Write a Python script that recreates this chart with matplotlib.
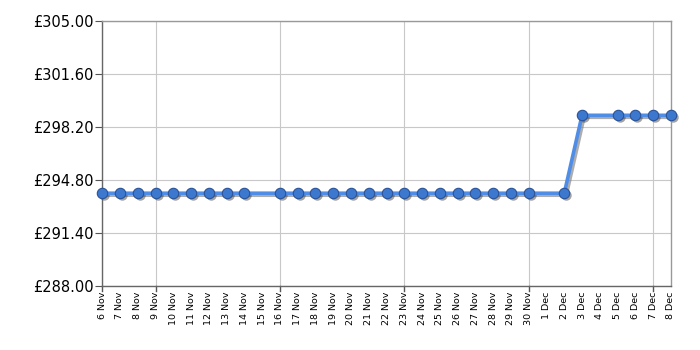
import matplotlib
matplotlib.use("Agg")
import matplotlib.pyplot as plt
import matplotlib.transforms as mtransforms
import numpy as np

days = ["6 Nov", "7 Nov", "8 Nov", "9 Nov", "10 Nov", "11 Nov", "12 Nov", "13 Nov", "14 Nov",
        "15 Nov", "16 Nov", "17 Nov", "18 Nov", "19 Nov", "20 Nov", "21 Nov", "22 Nov", "23 Nov",
        "24 Nov", "25 Nov", "26 Nov", "27 Nov", "28 Nov", "29 Nov", "30 Nov", "1 Dec", "2 Dec",
        "3 Dec", "4 Dec", "5 Dec", "6 Dec", "7 Dec", "8 Dec"]
prices = [293.95, 293.95, 293.95, 293.95, 293.95, 293.95, 293.95, 293.95, 293.95,
          None, 293.95, 293.95, 293.95, 293.95, 293.95, 293.95, 293.95, 293.95,
          293.95, 293.95, 293.95, 293.95, 293.95, 293.95, 293.95, None, 293.95,
          298.95, None, 298.95, 298.95, 298.95, 298.95]
week_ticks = ["6 Nov", "9 Nov", "16 Nov", "23 Nov", "30 Nov", "7 Dec"]
y_ticks = [288.00, 291.40, 294.80, 298.20, 301.60, 305.00]

fig = plt.figure(figsize=(7, 3.5), dpi=100)
ax = fig.add_axes([0.146, 0.183, 0.8124, 0.757])

xs = [i for i, p in enumerate(prices) if p is not None]
ys = [p for p in prices if p is not None]

shadow_tr = mtransforms.offset_copy(ax.transData, fig=fig, x=2, y=-2, units="dots")
ax.plot(xs, ys, color="#777777", lw=2.6, alpha=0.6, transform=shadow_tr, zorder=2,
        solid_joinstyle="round")
ax.plot(xs, ys, ls="none", marker="o", ms=7.5, markerfacecolor="#333333",
        markeredgecolor="none", alpha=0.45, transform=shadow_tr, zorder=2.5, clip_on=False)
ax.plot(xs, ys, color="#4f8de6", lw=2.6, marker="o", ms=7.5,
        markerfacecolor="#3d78cf", markeredgecolor="#2a5298", markeredgewidth=0.8,
        zorder=3, clip_on=False, solid_joinstyle="round")

ax.set_xlim(0, len(days) - 1)
ax.set_ylim(y_ticks[0], y_ticks[-1])
ax.set_yticks(y_ticks)
ax.set_yticklabels([f"£{v:.2f}" for v in y_ticks], fontsize=10.5)

ax.set_xticks(range(len(days)))
ax.set_xticklabels(days, rotation=90, fontsize=6.8)
ax.tick_params(axis="x", length=0, pad=4)
ax.tick_params(axis="y", length=5, color="#555555", pad=1)
major_idx = [days.index(d) for d in week_ticks]
for i in major_idx:
    ax.axvline(i, color="#c8c8c8", lw=0.8, zorder=0)
    ax.plot([i, i], [0, -0.018], transform=ax.get_xaxis_transform(), color="#555555",
            lw=1, clip_on=False)
for v in y_ticks:
    ax.axhline(v, color="#c8c8c8", lw=0.8, zorder=0)

for s in ax.spines.values():
    s.set_color("#999999")
    s.set_linewidth(1)
ax.spines["bottom"].set_color("#666666")
ax.spines["left"].set_color("#666666")

fig.savefig("out.png", dpi=100)
